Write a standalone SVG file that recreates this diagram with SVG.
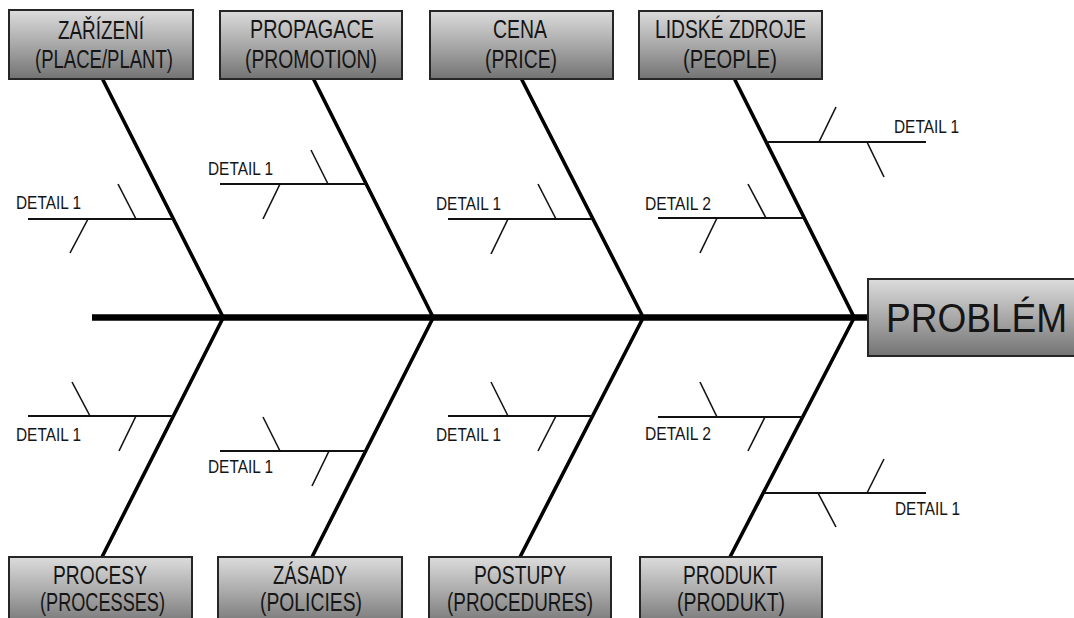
<svg xmlns="http://www.w3.org/2000/svg" width="1074" height="618" viewBox="0 0 1074 618">
  <style>
    .box { fill: url(#boxFill); stroke: #262626; stroke-width: 2; }
    .cat { font-family: "Liberation Sans", Arial, sans-serif; font-size: 26px; fill: #151515; }
    .catlow { font-family: "Liberation Sans", Arial, sans-serif; font-size: 25px; fill: #151515; }
    .big { font-family: "Liberation Sans", Arial, sans-serif; font-size: 40px; fill: #151515; }
    .det { font-family: "Liberation Sans", Arial, sans-serif; font-size: 18px; fill: #151515; }
    .spine { stroke: #000; stroke-width: 6.5; fill: none; }
    .bone { stroke: #000; stroke-width: 3.6; fill: none; stroke-linecap: round; }
    .sub { stroke: #111; stroke-width: 2; fill: none; }
    .tick { stroke: #111; stroke-width: 1.6; fill: none; }
  </style>
  <defs>
    <linearGradient id="boxFill" x1="0" y1="0" x2="0" y2="1">
      <stop offset="0" stop-color="#dcdcdc"/>
      <stop offset="0.5" stop-color="#a9a9a9"/>
      <stop offset="1" stop-color="#737373"/>
    </linearGradient>
  </defs>
  <rect width="1074" height="618" fill="#fff"/>

  <!-- skeleton: spine, main bones, sub-bones and ticks -->
  <g id="connectors">
    <line class="spine" x1="92" y1="317.5" x2="869" y2="317.5"/>
    <!-- upper bones -->
    <line class="bone" x1="103" y1="80" x2="223" y2="317"/>
    <line class="bone" x1="314" y1="80" x2="433" y2="317"/>
    <line class="bone" x1="522" y1="80" x2="643" y2="317"/>
    <line class="bone" x1="735" y1="80" x2="854" y2="317"/>
    <!-- lower bones -->
    <line class="bone" x1="223" y1="318" x2="102" y2="557"/>
    <line class="bone" x1="433" y1="318" x2="312" y2="557"/>
    <line class="bone" x1="643" y1="318" x2="520" y2="557"/>
    <line class="bone" x1="854" y1="318" x2="730" y2="557"/>

    <!-- upper sub-bones -->
    <line class="sub" x1="28" y1="219" x2="173" y2="219"/>
    <line class="tick" x1="118" y1="184" x2="136" y2="219"/>
    <line class="tick" x1="88" y1="219" x2="70" y2="253"/>

    <line class="sub" x1="220" y1="184" x2="366" y2="184"/>
    <line class="tick" x1="311" y1="150" x2="328" y2="184"/>
    <line class="tick" x1="280" y1="184" x2="263" y2="219"/>

    <line class="sub" x1="448" y1="219" x2="592" y2="219"/>
    <line class="tick" x1="538" y1="184" x2="556" y2="219"/>
    <line class="tick" x1="508" y1="219" x2="491" y2="254"/>

    <line class="sub" x1="658" y1="218" x2="803" y2="218"/>
    <line class="tick" x1="748" y1="184" x2="766" y2="218"/>
    <line class="tick" x1="717" y1="218" x2="700" y2="253"/>

    <line class="sub" x1="766" y1="142" x2="926" y2="142"/>
    <line class="tick" x1="836" y1="107" x2="819" y2="142"/>
    <line class="tick" x1="867" y1="142" x2="884" y2="177"/>

    <!-- lower sub-bones -->
    <line class="sub" x1="28" y1="416" x2="173" y2="416"/>
    <line class="tick" x1="72" y1="382" x2="90" y2="416"/>
    <line class="tick" x1="136" y1="416" x2="119" y2="451"/>

    <line class="sub" x1="220" y1="451" x2="365" y2="451"/>
    <line class="tick" x1="263" y1="417" x2="280" y2="451"/>
    <line class="tick" x1="329" y1="451" x2="312" y2="486"/>

    <line class="sub" x1="448" y1="416" x2="593" y2="416"/>
    <line class="tick" x1="491" y1="382" x2="508" y2="416"/>
    <line class="tick" x1="556" y1="416" x2="538" y2="451"/>

    <line class="sub" x1="658" y1="417" x2="803" y2="417"/>
    <line class="tick" x1="700" y1="382" x2="717" y2="417"/>
    <line class="tick" x1="765" y1="417" x2="748" y2="451"/>

    <line class="sub" x1="764" y1="493" x2="926" y2="493"/>
    <line class="tick" x1="884" y1="459" x2="867" y2="493"/>
    <line class="tick" x1="818" y1="493" x2="836" y2="527"/>
  </g>

  <!-- detail labels -->
  <g id="details">
    <text class="det" x="16" y="209" textLength="65" lengthAdjust="spacingAndGlyphs">DETAIL 1</text>
    <text class="det" x="208" y="175" textLength="65" lengthAdjust="spacingAndGlyphs">DETAIL 1</text>
    <text class="det" x="436" y="210" textLength="65" lengthAdjust="spacingAndGlyphs">DETAIL 1</text>
    <text class="det" x="645" y="210" textLength="66" lengthAdjust="spacingAndGlyphs">DETAIL 2</text>
    <text class="det" x="894" y="133" textLength="65" lengthAdjust="spacingAndGlyphs">DETAIL 1</text>
    <text class="det" x="16" y="441" textLength="65" lengthAdjust="spacingAndGlyphs">DETAIL 1</text>
    <text class="det" x="208" y="473" textLength="65" lengthAdjust="spacingAndGlyphs">DETAIL 1</text>
    <text class="det" x="436" y="441" textLength="65" lengthAdjust="spacingAndGlyphs">DETAIL 1</text>
    <text class="det" x="645" y="440" textLength="66" lengthAdjust="spacingAndGlyphs">DETAIL 2</text>
    <text class="det" x="895" y="515" textLength="65" lengthAdjust="spacingAndGlyphs">DETAIL 1</text>
  </g>

  <!-- category boxes, top row -->
  <g id="zarizeni">
    <rect class="box" x="9" y="10" width="184" height="69"/>
    <text class="cat" x="58" y="39" textLength="86" lengthAdjust="spacingAndGlyphs">ZAŘÍZENÍ</text>
    <text class="cat" x="35" y="68" textLength="138" lengthAdjust="spacingAndGlyphs">(PLACE/PLANT)</text>
  </g>
  <g id="propagace">
    <rect class="box" x="220" y="11" width="182" height="68"/>
    <text class="cat" x="250" y="38" textLength="124" lengthAdjust="spacingAndGlyphs">PROPAGACE</text>
    <text class="cat" x="245" y="68" textLength="132" lengthAdjust="spacingAndGlyphs">(PROMOTION)</text>
  </g>
  <g id="cena">
    <rect class="box" x="430" y="11" width="183" height="68"/>
    <text class="cat" x="493" y="38" textLength="54" lengthAdjust="spacingAndGlyphs">CENA</text>
    <text class="cat" x="485" y="68" textLength="72" lengthAdjust="spacingAndGlyphs">(PRICE)</text>
  </g>
  <g id="lidske-zdroje">
    <rect class="box" x="639" y="11" width="183" height="68"/>
    <text class="cat" x="655" y="38" textLength="151" lengthAdjust="spacingAndGlyphs">LIDSKÉ ZDROJE</text>
    <text class="cat" x="683" y="68" textLength="94" lengthAdjust="spacingAndGlyphs">(PEOPLE)</text>
  </g>

  <!-- category boxes, bottom row (run past the lower edge) -->
  <g id="procesy">
    <rect class="box" x="9" y="557" width="183" height="70"/>
    <text class="cat" x="53" y="584" textLength="94" lengthAdjust="spacingAndGlyphs">PROCESY</text>
    <text class="catlow" x="40" y="611" textLength="125" lengthAdjust="spacingAndGlyphs">(PROCESSES)</text>
  </g>
  <g id="zasady">
    <rect class="box" x="218" y="557" width="184" height="70"/>
    <text class="cat" x="273" y="584" textLength="74" lengthAdjust="spacingAndGlyphs">ZÁSADY</text>
    <text class="catlow" x="260" y="611" textLength="102" lengthAdjust="spacingAndGlyphs">(POLICIES)</text>
  </g>
  <g id="postupy">
    <rect class="box" x="429" y="557" width="182" height="70"/>
    <text class="cat" x="474" y="584" textLength="92" lengthAdjust="spacingAndGlyphs">POSTUPY</text>
    <text class="catlow" x="447" y="611" textLength="146" lengthAdjust="spacingAndGlyphs">(PROCEDURES)</text>
  </g>
  <g id="produkt">
    <rect class="box" x="640" y="557" width="182" height="70"/>
    <text class="cat" x="683" y="584" textLength="94" lengthAdjust="spacingAndGlyphs">PRODUKT</text>
    <text class="catlow" x="677" y="611" textLength="108" lengthAdjust="spacingAndGlyphs">(PRODUKT)</text>
  </g>

  <!-- effect box -->
  <g id="problem">
    <rect class="box" x="868" y="279" width="220" height="77"/>
    <text class="big" x="886" y="332" textLength="181" lengthAdjust="spacingAndGlyphs">PROBLÉM</text>
  </g>
</svg>
